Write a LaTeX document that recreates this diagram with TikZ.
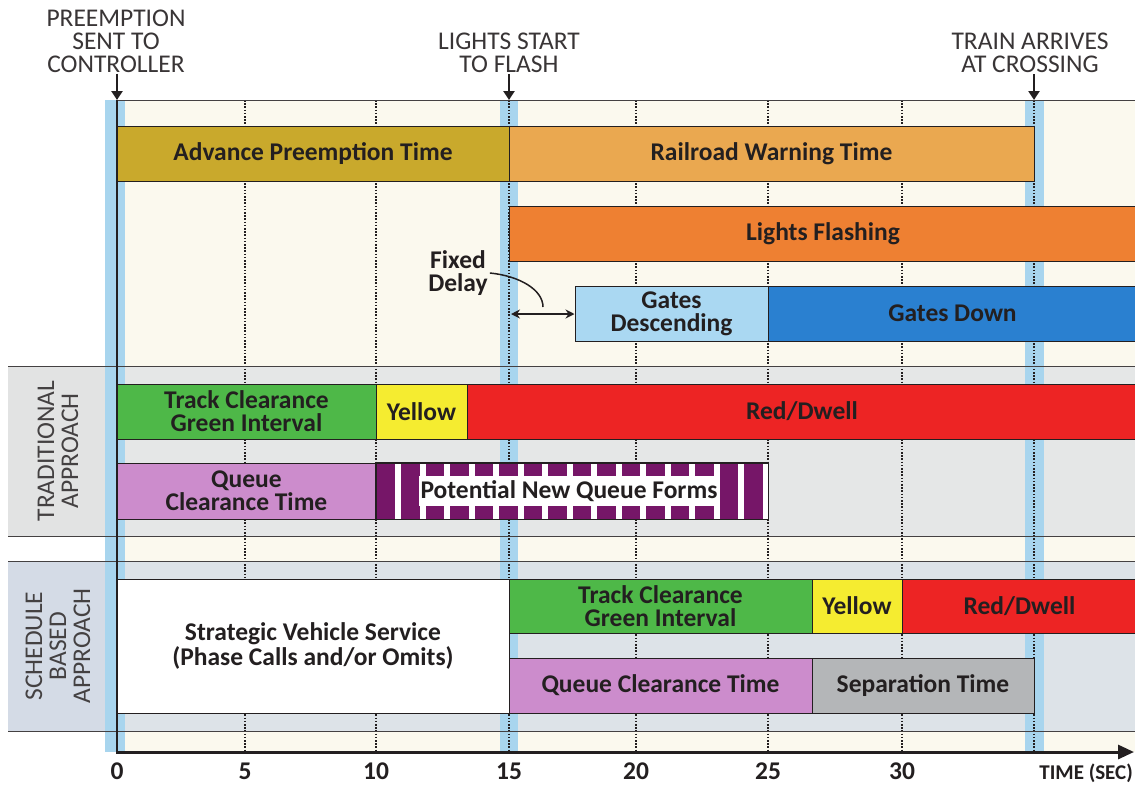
\documentclass[tikz,border=0pt]{standalone}
\usepackage{fontspec}
\setmainfont{Carlito}
\usetikzlibrary{arrows.meta}
\definecolor{advcol}{RGB}{201,169,44}
\definecolor{rwtcol}{RGB}{234,168,80}
\definecolor{lfcol}{RGB}{238,128,50}
\definecolor{gdcol}{RGB}{170,216,242}
\definecolor{gdncol}{RGB}{42,128,208}
\definecolor{grncol}{RGB}{78,184,72}
\definecolor{ylwcol}{RGB}{245,236,48}
\definecolor{redcol}{RGB}{237,36,36}
\definecolor{quecol}{RGB}{204,140,204}
\definecolor{pnqcol}{RGB}{118,22,104}
\definecolor{sepcol}{RGB}{180,182,184}
\definecolor{creamcol}{RGB}{251,249,238}
\definecolor{tradbg}{RGB}{229,231,231}
\definecolor{tradlab}{RGB}{226,227,227}
\definecolor{schedbg}{RGB}{221,227,232}
\definecolor{schedlab}{RGB}{212,219,230}
\definecolor{bandcol}{RGB}{168,213,238}
\definecolor{inkcol}{RGB}{35,31,32}
\newcommand{\tbox}[7]{%
  \node[boxsty, fill=#6, minimum width={#4pt-#2pt}, minimum height={#5pt-#3pt}]
    (#1) at ({(#2+#4)/2},{(#3+#5)/2}) {#7};}
\begin{document}
\begin{tikzpicture}[x=1pt,y=-1pt,
  boxsty/.style={draw=inkcol, line width=1pt, inner sep=0pt, align=center,
    font=\bfseries\fontsize{25.5}{23}\selectfont, text=inkcol},
  toplab/.style={align=center, font=\fontsize{25.5}{23}\selectfont, text=inkcol!90, inner sep=0pt},
  sidelab/.style={align=center, font=\fontsize{25.5}{24}\selectfont, text=inkcol!85, inner sep=0pt, rotate=90},
  axlab/.style={font=\bfseries\fontsize{25.5}{23}\selectfont, text=inkcol, inner sep=0pt},
  dotline/.style={line width=1.6pt, inkcol, dash pattern=on 1.6pt off 1.6pt},
  hline/.style={line width=0.9pt, inkcol!85},
  downarrow/.style={line width=2.6pt, inkcol, -{Triangle[length=9pt,width=11pt]}},
  fdarrow/.style={line width=1.5pt, inkcol, {Stealth[length=9pt,width=9pt]}-{Stealth[length=9pt,width=9pt]}}
]
\useasboundingbox (0,0) rectangle (1135,785);
\fill[white] (0,0) rectangle (1135,785);
% backgrounds
\fill[creamcol] (117,100) rectangle (1135,752);
\fill[tradbg] (8,366) rectangle (1135,536);
\fill[tradlab] (8,366) rectangle (106,536);
\fill[schedbg] (8,561) rectangle (1135,731);
\fill[schedlab] (8,561) rectangle (106,731);
% blue bands
\fill[bandcol] (105,100) rectangle (125,752);
\fill[bandcol] (500,100) rectangle (518,752);
\fill[bandcol] (1025,100) rectangle (1044,752);
% dotted grid
\foreach \x in {245,376,509,636,768,902,1034}
  \draw[dotline] (\x,100) -- (\x,750);
% horizontal lines
\draw[hline] (117,100) -- (1135,100);
\draw[hline] (8,366) -- (1135,366);
\draw[hline] (8,536) -- (1135,536);
\draw[hline] (8,561) -- (1135,561);
\draw[hline] (8,731) -- (1135,731);
% zero line
\draw[line width=1.3pt, inkcol] (117,100) -- (117,752);
% axis
\coordinate (ax0) at (116,752);
\coordinate (ax1) at (1134,752);
\draw[line width=3pt, inkcol, -{Triangle[length=16pt,width=14pt]}] (ax0) -- (ax1);
% top labels
\coordinate (t0) at (117,100);
\coordinate (t15) at (509,100);
\coordinate (tT) at (1034,100);
\node[toplab] (pre) at (116,41) {PREEMPTION\\SENT TO\\CONTROLLER};
\node[toplab] (lsf) at (509,53) {LIGHTS START\\TO FLASH};
\node[toplab] (tac) at (1030,53) {TRAIN ARRIVES\\AT CROSSING};
\draw[downarrow] (pre.south -| t0) ++(0,1) -- (t0);
\draw[downarrow] (lsf.south -| t15) ++(0,1) -- (t15);
\draw[downarrow] (tac.south -| tT) ++(0,1) -- (tT);
% upper boxes
\tbox{adv}{117}{126}{509}{181}{advcol}{Advance Preemption Time}
\tbox{rwt}{509}{126}{1034}{181}{rwtcol}{Railroad Warning Time}
\tbox{lf}{509}{206}{1137}{261}{lfcol}{Lights Flashing}
\tbox{gd}{575}{286}{768}{341}{gdcol}{Gates\\Descending}
\tbox{gdn}{768}{286}{1137}{341}{gdncol}{Gates Down}
% fixed delay
\node[axlab, align=center] (fd) at (458,273) {Fixed\\Delay};
\coordinate (fdend) at (543,307);
\draw[line width=1.5pt, inkcol] ([xshift=2pt]fd.east) .. controls (520,276) and (543,290) .. (fdend);
\coordinate (fdl) at (511,314);
\draw[fdarrow] (fdl) -- (fdl -| gd.west);
% traditional approach
\node[sidelab] (trad) at (58,451) {TRADITIONAL\\APPROACH};
\tbox{tg}{117}{384}{376}{439}{grncol}{Track Clearance\\Green Interval}
\tbox{ty}{376}{384}{467}{439}{ylwcol}{Yellow}
\tbox{tr}{467}{384}{1137}{439}{redcol}{Red/Dwell}
\tbox{tq}{117}{463}{376}{519}{quecol}{Queue\\Clearance Time}
\tbox{pnq}{376}{463}{768}{519}{pnqcol}{}
\foreach \k in {0,...,15}
  \fill[white] ({395+24.5*\k},463.5) rectangle ({401+24.5*\k},518.5);
\fill[white] (419,476) rectangle (720,506);
\draw[line width=1pt, inkcol] (pnq.north west) rectangle (pnq.south east);
\node[axlab] (pnqt) at (569,491) {Potential New Queue Forms};
% schedule based approach
\node[sidelab] (sched) at (58,646) {SCHEDULE\\BASED\\APPROACH};
\tbox{svs}{117}{579}{509}{713}{white}{Strategic Vehicle Service\\(Phase Calls and/or Omits)}
\tbox{sg}{509}{579}{812}{633}{grncol}{Track Clearance\\Green Interval}
\tbox{sy}{812}{579}{902}{633}{ylwcol}{Yellow}
\tbox{sr}{902}{579}{1137}{633}{redcol}{Red/Dwell}
\tbox{sq}{509}{658}{812}{713}{quecol}{Queue Clearance Time}
\tbox{ss}{812}{658}{1034}{713}{sepcol}{Separation Time}
% axis labels
\node[axlab] (n0) at (117,771) {0};
\node[axlab] (n5) at (245,771) {5};
\node[axlab] (n10) at (376,771) {10};
\node[axlab] (n15) at (509,771) {15};
\node[axlab] (n20) at (636,771) {20};
\node[axlab] (n25) at (768,771) {25};
\node[axlab] (n30) at (902,771) {30};
\node[axlab, anchor=east, font=\bfseries\fontsize{21}{23}\selectfont] (tsec) at (1133,773) {TIME (SEC)};
\end{tikzpicture}
\end{document}
